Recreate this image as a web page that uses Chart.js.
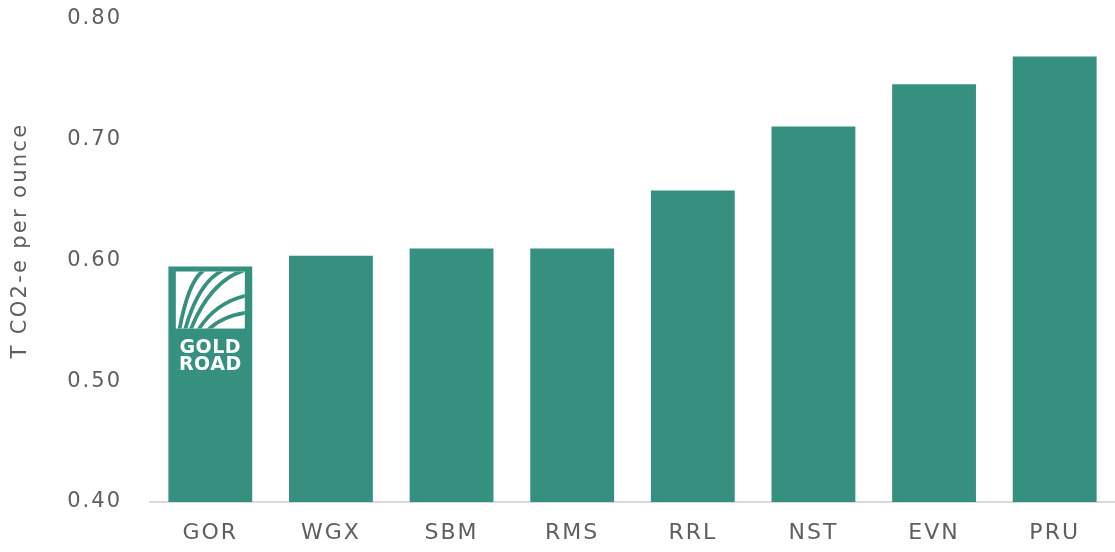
<!DOCTYPE html>
<html>
<head>
<meta charset="utf-8">
<script src="https://cdn.jsdelivr.net/npm/chart.js@4"></script>
<style>
html,body{margin:0;padding:0;background:#fff;}
#wrap{width:1115px;height:552px;position:relative;}
</style>
</head>
<body>
<div id="wrap"><canvas id="c" width="1115" height="552"></canvas></div>
<script>
const categories = ["GOR","WGX","SBM","RMS","RRL","NST","EVN","PRU"];
const values = [0.595, 0.604, 0.610, 0.610, 0.658, 0.711, 0.746, 0.769];
const yTicks = [0.40, 0.50, 0.60, 0.70, 0.80];
const yTitle = "T CO2-e per ounce";
const logoLines = ["GOLD","ROAD"];

const FONT = "'DejaVu Sans', sans-serif";
const TXT = "#5f5f5f";
const BAR = "#35907F";
const SPACING = "2px";

const spacingPlugin = {
  id: 'spacing',
  beforeInit(chart) { chart.ctx.letterSpacing = SPACING; },
  beforeUpdate(chart) { chart.ctx.letterSpacing = SPACING; },
  beforeLayout(chart) { chart.ctx.letterSpacing = SPACING; },
  beforeDraw(chart) { chart.ctx.letterSpacing = SPACING; }
};

const titlePlugin = {
  id: 'ytitle',
  afterDraw(chart) {
    const ctx = chart.ctx;
    const area = chart.chartArea;
    ctx.save();
    ctx.letterSpacing = "2.3px";
    ctx.fillStyle = TXT;
    ctx.font = "21px " + FONT;
    ctx.textAlign = "center";
    ctx.textBaseline = "middle";
    ctx.translate(21, (area.top + area.bottom) / 2 - 20);
    ctx.rotate(-Math.PI / 2);
    ctx.fillText(yTitle, 0, 0);
    ctx.restore();
  }
};

const logoPlugin = {
  id: 'logo',
  afterDatasetsDraw(chart) {
    const meta = chart.getDatasetMeta(0);
    const bar = meta.data[0];
    const ctx = chart.ctx;
    const cx = bar.x;
    const top = bar.y;
    const w = 69, h = 57;
    const x0 = cx - w/2, y0 = top + 5;
    ctx.save();
    ctx.letterSpacing = "0px";
    ctx.fillStyle = "#fff";
    ctx.fillRect(x0, y0, w, h);
    ctx.beginPath(); ctx.rect(x0, y0, w, h); ctx.clip();
    ctx.strokeStyle = BAR;
    ctx.lineWidth = 3.8;
    const starts = [0.05, 0.13, 0.21, 0.32, 0.46];
    const ends = [[0.40, -0.02], [0.68, -0.02], [0.98, -0.02], [1.03, 0.42], [1.03, 0.72]];
    ends.forEach((e, i) => {
      const sx = x0 + w * starts[i], sy = y0 + h + 2;
      const ex = x0 + w * e[0], ey = y0 + h * e[1];
      const c1x = sx + (ex - sx) * 0.2, c1y = sy - (sy - ey) * 0.45;
      const c2x = sx + (ex - sx) * 0.5, c2y = ey + (sy - ey) * 0.15;
      ctx.beginPath();
      ctx.moveTo(sx, sy);
      ctx.bezierCurveTo(c1x, c1y, c2x, c2y, ex, ey);
      ctx.stroke();
    });
    ctx.restore();
    ctx.save();
    ctx.letterSpacing = "0.5px";
    ctx.fillStyle = "#fff";
    ctx.font = "bold 19px " + FONT;
    ctx.textAlign = "center";
    ctx.textBaseline = "middle";
    ctx.fillText(logoLines[0], cx, top + 82);
    ctx.fillText(logoLines[1], cx, top + 99);
    ctx.restore();
  }
};

new Chart(document.getElementById('c'), {
  type: 'bar',
  data: {
    labels: categories,
    datasets: [{
      data: values,
      backgroundColor: BAR,
      borderWidth: 0,
      barPercentage: 0.695,
      categoryPercentage: 1.0
    }]
  },
  options: {
    responsive: false,
    animation: false,
    devicePixelRatio: 1,
    layout: { padding: { top: 0, right: 0, left: 0, bottom: 0 } },
    plugins: { legend: { display: false }, tooltip: { enabled: false } },
    scales: {
      x: {
        grid: { display: false, drawTicks: false },
        border: { display: true, color: "#d9d9d9", width: 2 },
        ticks: { color: TXT, font: { family: FONT, size: 22 }, padding: 18, maxRotation: 0 },
        afterFit(scale) { scale.height = 50; }
      },
      y: {
        min: 0.40, max: 0.80,
        afterBuildTicks(scale) { scale.ticks = yTicks.map(v => ({ value: v })); },
        grid: { display: false, drawTicks: false },
        border: { display: false },
        ticks: { color: TXT, font: { family: FONT, size: 21 }, padding: 28,
                 callback: v => Number(v).toFixed(2) },
        title: { display: false },
        afterFit(scale) { scale.width = 150; scale.paddingTop = 19; scale.paddingBottom = 0; }
      }
    }
  },
  plugins: [spacingPlugin, titlePlugin, logoPlugin]
});
</script>
</body>
</html>
